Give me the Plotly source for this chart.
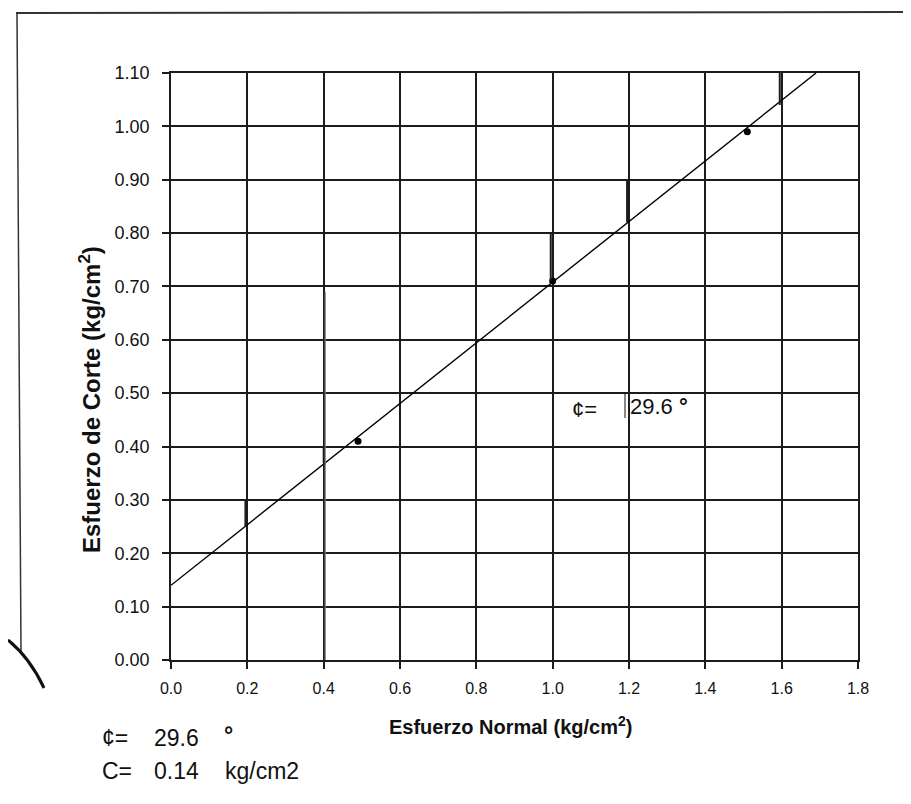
import plotly.graph_objects as go

# ---- data ----
normal_stress = [0.49, 1.00, 1.51]          # kg/cm2
shear_stress = [0.41, 0.71, 0.99]           # kg/cm2
fit_x = [0.0, 1.69]
fit_y = [0.14, 1.10]
x_ticks = [0.0, 0.2, 0.4, 0.6, 0.8, 1.0, 1.2, 1.4, 1.6, 1.8]
x_labels = ["0.0", "0.2", "0.4", "0.6", "0.8", "1.0", "1.2", "1.4", "1.6", "1.8"]
y_ticks = [0.0, 0.1, 0.2, 0.3, 0.4, 0.5, 0.6, 0.7, 0.8, 0.9, 1.0, 1.1]
y_labels = ["0.00", "0.10", "0.20", "0.30", "0.40", "0.50", "0.60", "0.70",
            "0.80", "0.90", "1.00", "1.10"]
phi_text = "29.6"
c_text = "0.14"
# scan artefacts: short shifted grid segments (x, y_from, y_to)
stub_x = [-0.01, 0.195, 0.40, 0.995, 1.195, 1.595]
stub_y0 = [0.135, 0.25, 0.37, 0.71, 0.82, 1.04]
stub_y1 = [0.20, 0.30, 0.40, 0.80, 0.90, 1.10]

W, H = 911, 804
L, R, T, B = 163, 61, 65, 152
PW, PH = W - L - R, H - T - B


def px(x):
    return (x - L) / PW


def py(y):
    return (H - B - y) / PH


FONT = "Liberation Sans, Arial, sans-serif"
INK = "#1c1c1c"

fig = go.Figure()
fig.add_trace(go.Scatter(x=fit_x, y=fit_y, mode="lines",
                         line=dict(color="black", width=1.4),
                         showlegend=False, hoverinfo="skip"))
fig.add_trace(go.Scatter(x=normal_stress, y=shear_stress, mode="markers",
                         marker=dict(color="black", size=7),
                         showlegend=False))

axis_common = dict(showgrid=True, gridcolor=INK, gridwidth=1.8,
                   showline=True, linecolor=INK, linewidth=1.8,
                   mirror=True, ticks="outside", ticklen=7, tickwidth=1.6,
                   tickcolor=INK, zeroline=False)

fig.update_xaxes(range=[0, 1.8], tickvals=x_ticks, ticktext=x_labels,
                 tickfont=dict(family=FONT, size=16, color="#111"),
                 ticklabelstandoff=6, **axis_common)
fig.update_yaxes(range=[0, 1.1], tickvals=y_ticks, ticktext=y_labels,
                 tickfont=dict(family=FONT, size=18, color="#111"),
                 ticklabelstandoff=9, **axis_common)

ann = []
ann.append(dict(text="<b>Esfuerzo Normal (kg/cm<sup>2</sup>)</b>", x=px(502), y=py(717),
                xref="paper", yref="paper", showarrow=False, xanchor="center",
                yanchor="middle", font=dict(family=FONT, size=20, color="#111")))
ann.append(dict(text="<b>Esfuerzo de Corte (kg/cm<sup>2</sup>)</b>", x=px(82), y=py(392),
                xref="paper", yref="paper", showarrow=False, xanchor="center",
                yanchor="middle", textangle=-90,
                font=dict(family=FONT, size=24, color="#111")))
# inside annotation
ann.append(dict(text="¢=", x=px(562), y=py(401), xref="paper", yref="paper",
                showarrow=False, xanchor="left", yanchor="middle",
                font=dict(family=FONT, size=22, color="#111")))
ann.append(dict(text=phi_text + " <b>°</b>", x=px(620), y=py(398), xref="paper", yref="paper",
                showarrow=False, xanchor="left", yanchor="middle",
                font=dict(family=FONT, size=22, color="#111")))
# bottom texts
for txt, xx, yy in [("¢=", 92, 730), (phi_text, 144, 730), ("<b>°</b>", 214, 727),
                    ("C=", 92, 763), (c_text, 144, 763), ("kg/cm2", 215, 763)]:
    ann.append(dict(text=txt, x=px(xx), y=py(yy), xref="paper", yref="paper",
                    showarrow=False, xanchor="left", yanchor="middle",
                    font=dict(family=FONT, size=23, color="#111")))

shapes = []
# shifted grid stubs from the scan
for sx, s0, s1 in zip(stub_x, stub_y0, stub_y1):
    shapes.append(dict(type="line", xref="x", yref="y", x0=sx, x1=sx, y0=s0, y1=s1,
                       line=dict(color=INK, width=2)))
shapes.append(dict(type="line", xref="x", yref="y", x0=-0.01, x1=0.0, y0=0.20, y1=0.20,
                   line=dict(color=INK, width=1.8)))
shapes.append(dict(type="line", xref="x", yref="y", x0=0.404, x1=0.404, y0=0.0, y1=0.69,
                   line=dict(color="#777", width=1.2)))
# outer frame of the scanned figure
shapes.append(dict(type="line", xref="paper", yref="paper", x0=px(8), y0=py(5),
                   x1=px(911), y1=py(4), line=dict(color="#333", width=2)))
shapes.append(dict(type="line", xref="paper", yref="paper", x0=px(9), y0=py(5),
                   x1=px(13), y1=py(643), line=dict(color="#333", width=1.5)))
shapes.append(dict(type="line", xref="paper", yref="paper", x0=px(55), y0=py(802),
                   x1=px(911), y1=py(802), line=dict(color="#888", width=1.5)))
shapes.append(dict(type="line", xref="paper", yref="paper", x0=px(907), y0=py(60),
                   x1=px(907), y1=py(800), line=dict(color="#ddd", width=1)))
# arc at lower left
shapes.append(dict(type="path", xref="paper", yref="paper",
                   path=f"M {px(0)},{py(632)} Q {px(22)},{py(650)} {px(36)},{py(680)}",
                   line=dict(color="#111", width=3)))
# cursor mark beside inner value
shapes.append(dict(type="line", xref="paper", yref="paper", x0=px(617), y0=py(385),
                   x1=px(617), y1=py(410), line=dict(color="#111", width=1)))

fig.update_layout(width=W, height=H, margin=dict(l=L, r=R, t=T, b=B),
                  paper_bgcolor="white", plot_bgcolor="white",
                  annotations=ann, shapes=shapes, showlegend=False)

fig.write_html("out.html")
